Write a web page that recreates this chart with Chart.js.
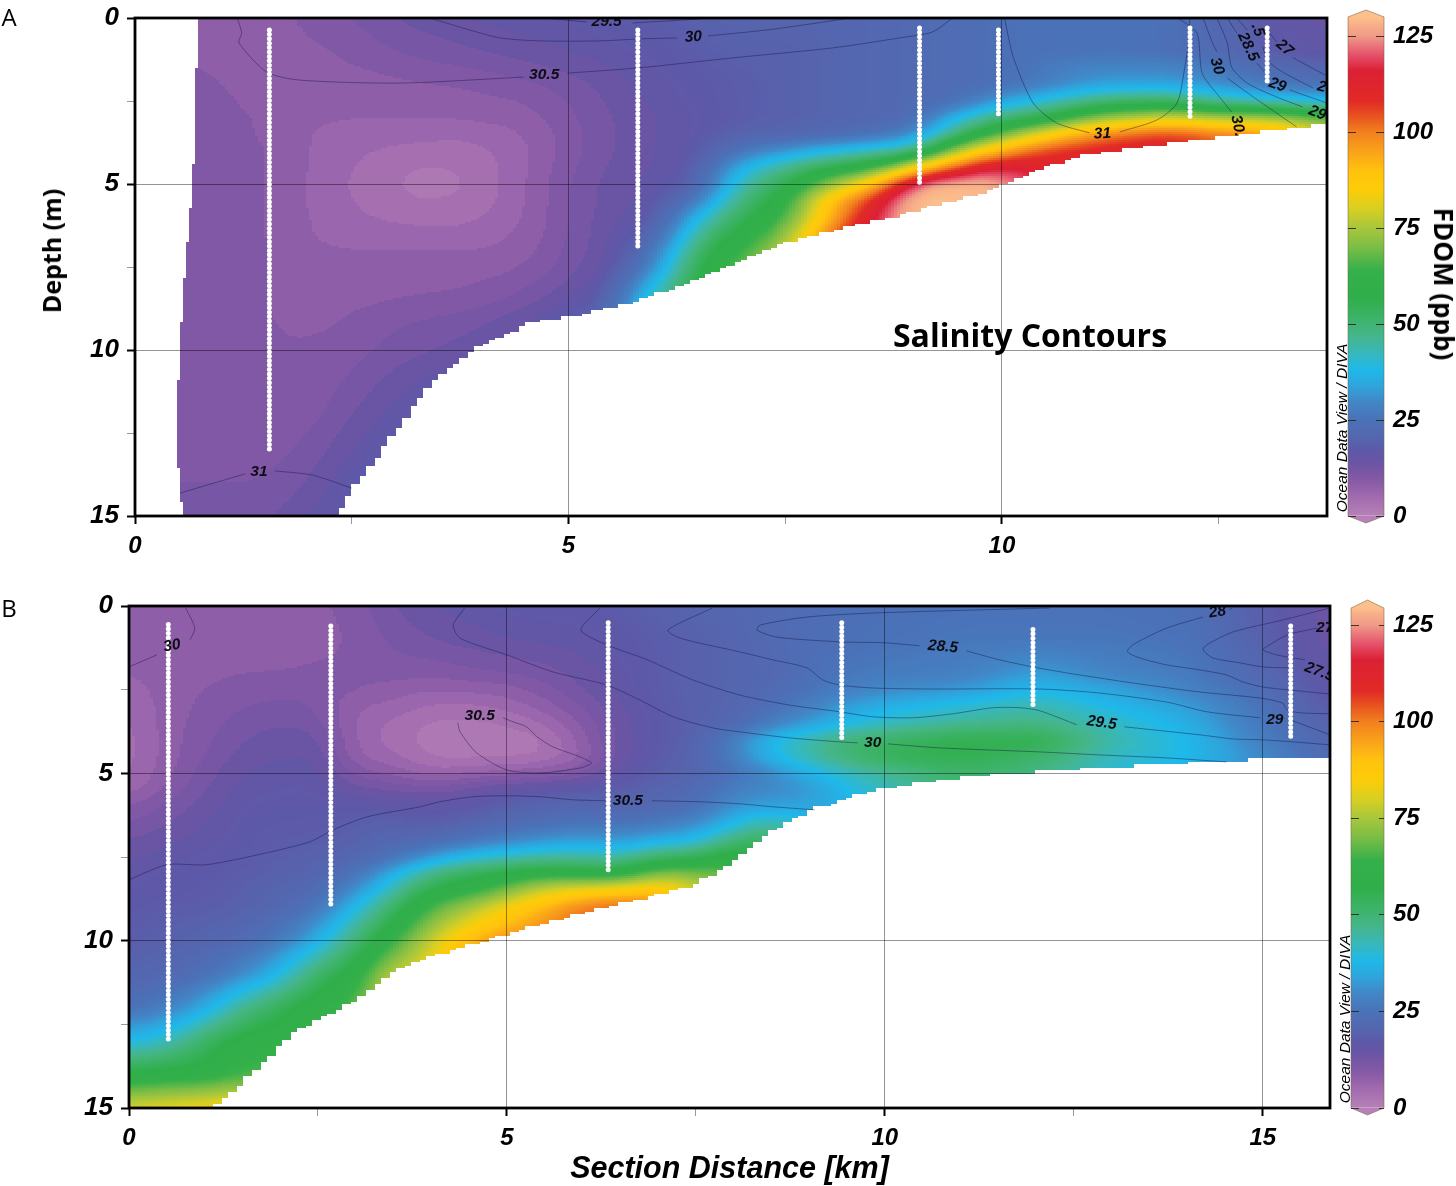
<!DOCTYPE html>
<html><head><meta charset="utf-8">
<style>
html,body{margin:0;padding:0;background:#fff;width:1456px;height:1186px;overflow:hidden}
canvas{position:absolute;display:block}
.t{position:absolute;white-space:nowrap;transform:translate(-50%,-50%);color:#000;line-height:1}
</style>
<script src="https://cdn.jsdelivr.net/npm/chart.js@4/dist/chart.umd.min.js"></script>
</head><body>
<canvas id="cA" style="left:0;top:-20px" width="1340" height="590"></canvas>
<canvas id="barA" style="left:1340px;top:-30px" width="116" height="600"></canvas>
<canvas id="cB" style="left:0;top:575px" width="1340" height="611"></canvas>
<canvas id="barB" style="left:1340px;top:560px" width="116" height="600"></canvas>
<div class="t" style="left:9px;top:16px;font:24px 'Open Sans'">A</div>
<div class="t" style="left:9px;top:607px;font:24px 'Open Sans'">B</div>
<div class="t" style="left:51px;top:251px;font:700 25px 'Open Sans';transform:translate(-50%,-50%) rotate(-90deg)">Depth (m)</div>
<div class="t" style="left:1030px;top:334px;font:700 32px 'Open Sans'">Salinity Contours</div>
<div class="t" style="left:1444px;top:284px;font:700 26px 'Open Sans';transform:translate(-50%,-50%) rotate(90deg)">FDOM (ppb)</div>
<div class="t" style="left:1342px;top:428px;font:italic 15.5px 'Liberation Sans';transform:translate(-50%,-50%) rotate(-90deg)">Ocean Data View / DIVA</div>
<div class="t" style="left:1345px;top:1019px;font:italic 15.5px 'Liberation Sans';transform:translate(-50%,-50%) rotate(-90deg)">Ocean Data View / DIVA</div>
<script>
// ---- Depth levels of the section tables (m)
const depthRows=[0,1,2,2.5,3,3.5,4,4.5,5,5.5,6,6.5,7,7.5,8,8.5,9,10,11,12,13,14,15];

// ---- Panel A: FDOM (ppb) by section distance (km); each inner list runs down depthRows
const distA=[0.5,1,1.5,2,2.5,3,3.5,4,4.5,5,5.5,6,6.5,7,7.5,8,8.5,9,9.5,10,10.5,11,11.5,12,12.5,13,13.75];
const fdomA=[
[9,9,10,10,10,10,10.5,10.5,10.5,10.5,10.5,10.5,10.5,10.5,10.5,10.5,10.5,10.5,10.5,10.5,10.5,11,11.5],
[8,8,9,9.5,10,10.5,11,11,11,11,11,11,11,11,11,10.5,10.5,10.5,10.5,10.5,10.5,11,11.5],
[8,8,8,8,8.5,8.5,9,9,9,9,9,9,9,9,9,9,9,9.5,9.5,9.5,10,11,12.5],
[9.5,8.5,8,8,7.5,7,7,7,6.8,6.8,7,7,7.5,8,8,8,8.5,9,9.5,10,11.5,13,15],
[11,9.5,8,8,7,6,5.5,5,4.8,5,5.5,6,7,8,8,8.5,9,10,11.5,13,15,17,18],
[13,11,8.5,8,7,6,4.5,3.5,3,3.5,4.5,6,7,8,8.5,9,10.5,12,14,16,18,20],
[14.5,12,9,8,7,5.5,4,2.6,2,2.8,4,5.5,7,8,8.5,9.5,11,13,16,19],
[15.5,13,9.5,8.5,7.5,5.5,4.5,4,3.8,4,4.8,6,7,8,9,10,12,15,18],
[16,14,10.5,9,8,7,6.5,6.5,6.8,6.8,7,7.5,8,9,10.5,12,14.5,17],
[16.5,15,12,11,10.5,10,10,10.5,11,11,11,11,11.5,12,13,15,17,19],
[17.5,16,14,13.5,13,13,13,13.5,14,14,14.5,15,15,16,18,20,22],
[18,17,16,15.5,15,15,15,15,15.5,16,17,20,25,30,38,46,50],
[19,18,17,17,16.5,16.5,17,18,20,27,38,46,53,57,59,60],
[20,19,18,18,18,20,26,37,44,50,55,60,64,68],
[20,19,19,19,19,20,32,46,55,60,64,70,76,80],
[20,20,20,20,20,22,38,56,72,88,92,101,104],
[21,21,21,21,21,24,42,62,88,108,115,118],
[22,22,22,22,22.5,30,48,84,122,132,132,132],
[23,23,23,24,38,52,76,106,130,132,132],
[24,24,24,34,50,68,94,118,127,130],
[25,25,28,40,56,84,106,112,114],
[25,25,33,48,70,96,110,112],
[25,25,34,52,76,103,112,112],
[24,24,34,52,80,106,112],
[21,22,31,45,74,100,104],
[17,18,27,42,76,98,98],
[14,16,24,38,66,80,80]];
const floorKmA=[0,2.2,2.3,2.51,3.43,3.98,4.55,5,5.65,5.82,6.6,7.44,8.13,8.9,9.67,10.44,10.93,11.9,12.66,13.75];
const floorDepthA=[15.6,15.5,15,14.16,10.9,9.85,9.15,9,8.6,8.5,7.7,6.8,6.33,5.87,5.33,4.5,4.13,3.77,3.52,3.17];
const edgeDepthA=[0,2.5,5,6,8.5,11,13.5,15];
const edgeKmA=[0.74,0.69,0.67,0.63,0.55,0.5,0.5,0.55];
const stationsA=[[1.55,0.36,13],[5.8,0.36,7],[9.05,0.3,5],[9.96,0.36,3],[12.17,0.3,3],[13.06,0.3,2]];
const contoursA=[
[[4.71,0],[5.21,.12],null,[5.74,.15],[6.52,.03]],
[[3.4,0],[3.86,.36],[4.21,.6],[4.67,.69],[5.36,.69],[5.82,.63],[6.25,.6],null,[6.61,.54],[7.29,.36],[7.87,.15],[8.25,0]],
[[1.18,0],[1.23,.45],[1.2,.75],[1.52,1.63],[1.9,1.87],[3.06,1.96],[4.48,1.78],null,[4.99,1.66],[5.82,1.5],[6.9,1.2],[8.05,.9],[8.82,.6],[9.2,.42],[9.43,0]],
[[10.03,0],[10.13,1.17],[10.36,2.56],[10.63,3.16],[11.01,3.46],null,[11.36,3.43],[11.79,3.07],[12.02,2.56],[12.11,1.48],[12.15,.75],[12.17,0]],
[[12.03,0],[12.25,.45],[12.31,1.66],[12.51,2.38],[12.65,2.83]],
[[12.32,0],[12.43,.75],[12.48,1.02],null,[12.6,1.81],[12.9,2.38],[13.4,3.28]],
[[12.48,0],[12.6,.75],[12.65,1.48],[12.83,1.96],[13.17,2.38],[13.47,2.68]],
[[12.6,0],[12.71,.45],null,[12.94,1.36],[13.09,1.81],null,[13.32,2.17],[13.75,2.56]],
[[12.71,0],[12.83,.36],null,[13.01,.87],[13.06,1.27],[13.24,1.63],[13.59,2.11]],
[[13.03,.27],[13.17,.72],null,[13.36,1.2],[13.73,1.72]],
[[.52,14.31],[1.27,13.73],null,[1.61,13.64],[2.05,13.77],[2.5,14.16]]];
const labelsA=[["29.5",5.44,.12,0],["30",6.44,.57,-3],["30.5",4.72,1.72,0],["31",1.43,13.67,0],["31",11.16,3.49,-3],
["30",12.48,1.45,72],["28.5",12.84,.87,65],[".5",12.95,.36,72],["27",13.26,.9,40],["29",13.18,2.02,20],["29",13.64,2.86,22],["2",13.69,2.08,15],["30.",12.72,3.25,78]];

// ---- Panel B
const distB=[0,0.5,1,1.5,2,2.5,3,3.5,4,4.5,5,5.5,6,6.5,7,7.5,8,8.5,9,9.5,10,11,12,13,14,15,15.9];
const fdomB=[
[8,8,7,6,5,4.5,4,4,4.5,6,9,11,13,14.5,16,16.5,17,18,20,24,38,58,80],
[8,8,8,8,8,8,8,8,8.5,9.5,11.5,13,14.5,16,17,17,18,19,21,28,42,60,82],
[8,8,8.5,9,9.5,10,10.5,11,12,13,14,15,16,16.5,17,17.5,18,20,24,35,52,60,84],
[8,8,9,10,11,12,13,14,15,16,16.5,17,17,17.5,18,18.5,19,22,30,47,60,66,86],
[8,8,9,10.5,11.5,13,14,15,16,16.5,17,17.5,18,18.5,19,20,21,27,38,54,62,66],
[8.5,8,9.5,10.5,11,12,14,15,16,16.5,17,17.5,18,19,20,22,26,36,52,62,66],
[10,9.5,9.5,9,7,6.5,6.5,7,10,14,17,18.5,19,21,25,31,38,50,60,66],
[13,11.5,10,8,6.5,4.5,4,5.5,8.5,13,17,19,21,25,36,44,52,64,78,84],
[15,13,9.5,7,4.5,2.5,2,2.5,6,12,16,18,22,33,48,58,66,78,84],
[16,14,10.5,7.5,4.5,2.5,2,2.5,7,14,17,20,26,39,54,62,74,92,98],
[17,15,11,8,5.5,3,2,2.5,8,16,19,22,29,42,58,70,84,98,100],
[17,15.5,12,10,8,5,2.5,3,9,17,20,24,32,45,62,80,92,102],
[17,16,14,13,11,9.5,8,7,11,18,21,26,33,45,60,84,100,108],
[18,17,16,15.5,15,14,14,14,16,18,20,25,32,44,60,86,104],
[19,18,18,18,17.5,17.5,17.5,18,18.5,20,22,27,36,52,72,90,100],
[20,19,19,19,19,19,19,19.5,20,22,24,30,38,54,70,80],
[21,20,20,20,20,21,28,28,25,28,32,38,50,62,68],
[22,22,21,22,24,28,38,37,30,30,34,46,54],
[23,23,24,25,28,33,44,44,36,32,34,38],
[24,24,26,28,33,38,50,50,42,38,36],
[24,25,27,30,36,42,52,54,46,42],
[25,26,28,32,40,46,56,56,52,50],
[25,26,33,38,44,48,56,52,48],
[25,26,29,34,38,42,44,42,40],
[24,25,27,29,33,36,38,38,37],
[18,19,21,23,25,26,28,30,30],
[14,14,15,16,17,19,20,22,23]];
const floorKmB=[0,1.05,1.07,1.5,1.83,2.2,2.88,3.5,4,4.5,5,5.5,6,6.5,7,7.5,8,8.5,9,9.5,10,11,11.52,13.8,14.6,15.9];
const floorDepthB=[15.6,15.5,15,14.2,13.46,12.66,11.9,10.9,10.45,10.1,9.8,9.45,9.15,8.87,8.6,8.3,7.6,6.7,6.1,5.7,5.43,5.1,5,4.7,4.6,4.52];
const stationsB=[[.52,.55,13],[2.67,.6,9],[6.34,.5,8],[9.43,.5,4],[11.96,.7,3.05],[15.37,.6,4]];
const contoursB=[
[[.75,.06],[.87,.66],[.81,1.01],null,[.37,1.46],[0,1.82]],
[[0,8.18],[.5,7.73],[1.03,7.73],[1.83,7.37],[2.4,7.04],[2.7,6.69],[3.15,6.3],[3.85,6],[4.11,5.85],[4.55,5.7],[5,5.67],[5.44,5.7],[5.87,5.79],[6.3,5.82],null,[6.92,5.82],[7.55,5.85],[8.08,5.91],[8.52,6],[9.07,6.09]],
[[4.35,3.49],[4.38,3.76],[4.6,4.39],[5,4.9],[5.44,4.99],[5.97,4.84],[6.12,4.69],[5.97,4.51],[5.61,4.21],[5.4,3.91],[5.26,3.61],[5.08,3.46],[4.95,3.34]],
[[4.44,.06],[4.29,.57],[4.38,.96],[5,1.46],[5.61,1.97],[6.32,2.36],[6.76,2.81],[7.2,3.31],[7.72,3.64],[8.08,3.76],[8.74,3.94],[9.4,4.06],[9.64,4.09],null,[10.04,4.12],[10.73,4.24],[12.05,4.36],[12.84,4.45],[13.73,4.54],[14.52,4.66]],
[[6.23,.06],[5.98,.72],[6.32,1.16],[6.85,1.6],[7.46,2.21],[8.08,2.66],[8.74,2.96],[9.4,3.16],[9.84,3.31],[10.37,3.34],[10.9,3.22],[11.43,3.04],[11.79,3.04],[12.05,3.13],[12.54,3.55],null,[13.17,3.61],[14.17,3.85],[14.6,3.97],[15,4],[15.4,4.06],[15.89,4.15]],
[[7.72,.06],[7.13,.72],[7.29,.96],[8.08,1.37],[8.52,1.61],[8.97,1.85],[9.18,2.21],[9.4,2.36],[9.84,2.45],[10.6,2.48],[12.05,2.48],[12.84,2.6],[13.73,2.87],[14.26,3.16],[14.96,3.34],null,[15.4,3.43],[15.89,3.85]],
[[12.18,.06],[9.84,.21],[8.97,.33],[8.35,.57],[8.31,.72],[8.57,.93],[9.4,1.07],[10,1.1],[10.46,1.19],null,[11.08,1.34],[11.52,1.61],[11.96,1.82],[12.41,2],[13.28,2.3],[14.17,2.57],[14.96,2.75],[15.26,2.9],[15.32,3.1],[15.49,3.19],[15.89,3.22]],
[[14.6,.06],[14.55,.12],null,[14.21,.33],[13.73,.66],[13.28,1.16],[13.21,1.37],[13.37,1.55],[13.73,1.76],[14.17,1.91],[14.52,2.06],[14.74,2.27],[15,2.42],[15.36,2.51],[15.89,2.63]],
[[15.89,.06],[15.26,.42],[14.6,.78],[14.26,1.16],[14.21,1.31],[14.34,1.55],[14.7,1.7],[15,1.82],[15.36,1.85]],
[[15.71,.66],[15.32,.87],[15.05,1.22],[15,1.31],[15.18,1.46],[15.4,1.55],[15.56,1.61]]];
const labelsB=[["30",.57,1.19,-10],["30.5",6.6,5.82,0],["30.5",4.64,3.28,0],["30",9.84,4.09,0],["28.5",10.77,1.22,5],["29.5",12.87,3.49,8],["29",15.16,3.4,0],["28",14.4,.18,-8],["27.5",15.75,1.97,20],["27",15.82,.66,0]];

// ---- Colour scale
const scaleValues=[0,2,4,6,8,10,12,14,17,20,25,30,34,38,42,47,52,57,64,70,75,80,85,90,95,100,104,108,116,120,125,128,132];
const scaleColors=["#b680b8","#ae78b4","#a56fb0","#9a66ad","#8f5ea8","#8158a5","#7656a5","#6a55a5","#5e58a8","#5565ae","#4a72b8","#4188c8","#2ea5dc","#1fb8ea","#35b8c0","#45b58a","#3cb366","#2fae4a","#35b04a","#7bbd45","#a8c63c","#d8cf22","#fdcc08","#ffc20e","#f9a21a","#f2801f","#e8541f","#e12a26","#dc2035","#e4506a","#f09a88","#f8b088","#fcc08c"];
const barTicks=[0,25,50,75,100,125];

const rgb=scaleColors.map(c=>[1,3,5].map(i=>parseInt(c.substr(i,2),16)));
const cache=new Map();
function colourOf(v){
  v=Math.max(0,Math.min(132,v));
  v=v<16?Math.round(v/2)*2:Math.round(v*4)/4;
  if(cache.has(v))return cache.get(v);
  let i=0;while(i<scaleValues.length-2&&scaleValues[i+1]<v)i++;
  const t=(v-scaleValues[i])/(scaleValues[i+1]-scaleValues[i]);
  const c=rgb[i].map((a,k)=>Math.round(a+(rgb[i+1][k]-a)*t));
  const s=`rgb(${c[0]},${c[1]},${c[2]})`;cache.set(v,s);return s;
}
function along(xs,ys,x){
  if(x<=xs[0])return ys[0];
  for(let i=1;i<xs.length;i++)if(x<=xs[i])return ys[i-1]+(ys[i]-ys[i-1])*(x-xs[i-1])/(xs[i]-xs[i-1]);
  return ys[ys.length-1];
}
function bracket(xs,x){
  if(x<=xs[0])return[0,0,0];
  for(let i=1;i<xs.length;i++)if(x<=xs[i])return[i-1,i,(x-xs[i-1])/(xs[i]-xs[i-1])];
  return[xs.length-1,xs.length-1,0];
}
function read(cols,grid,km,d){
  const[a,b,t]=bracket(cols,km),[p,q,u]=bracket(depthRows,d);
  const at=(c,r)=>c[Math.min(r,c.length-1)];
  const v1=at(grid[a],p)*(1-u)+at(grid[a],q)*u;
  const v2=at(grid[b],p)*(1-u)+at(grid[b],q)*u;
  return v1*(1-t)+v2*t;
}
// softened reading so the drawn field has no creases at the table's rows and columns
const softKm=[0,-.22,.22,-.22,.22,-.11,.11],softDepth=[0,-.18,-.18,.18,.18,0,0];
function readSoft(cols,grid,km,d){
  let s=0;for(let i=0;i<7;i++)s+=read(cols,grid,km+softKm[i],d+softDepth[i]);
  return s/7;
}
function heatPlugin(cols,grid,floorKm,floorDepth,edgeDepth,edgeKm,stepX){
  return{id:'heat',beforeDraw(chart){
    const{ctx,chartArea:a,scales:{x,y}}=chart;
    ctx.save();ctx.beginPath();ctx.rect(a.left,a.top,a.width,a.height);ctx.clip();
    for(let py=Math.floor(a.top);py<a.bottom;py+=2){
      const d=y.getValueForPixel(py+1);
      const leftKm=edgeKm?along(edgeDepth,edgeKm,d):-1;
      for(let px=Math.floor(a.left);px<a.right;px+=3){
        const km=x.getValueForPixel(px+1.5);
        if(km<leftKm)continue;
        const qx=a.left+(Math.floor((px-a.left)/stepX)+.5)*stepX;
        const botPx=Math.round(y.getPixelForValue(along(floorKm,floorDepth,x.getValueForPixel(qx)))/3)*3;
        if(py>=botPx)continue;
        ctx.fillStyle=colourOf(readSoft(cols,grid,km,d));
        ctx.fillRect(px,py,3,2);
      }
    }
    ctx.restore();
  }};
}
function overlayPlugin(labels){
  return{id:'overlay',afterDatasetsDraw(chart){
    const{ctx,chartArea:a,scales:{x,y}}=chart;
    ctx.save();ctx.beginPath();ctx.rect(a.left,a.top,a.width,a.height);ctx.clip();
    ctx.font='italic bold 15.5px "Liberation Sans"';ctx.fillStyle='#0c0c14';ctx.textAlign='center';ctx.textBaseline='middle';
    labels.forEach(([t,km,d,r])=>{
      ctx.save();ctx.translate(x.getPixelForValue(km),y.getPixelForValue(d));ctx.rotate(r*Math.PI/180);ctx.fillText(t,0,0);ctx.restore();
    });
    ctx.restore();
  },afterDraw(chart){
    const{ctx,chartArea:a}=chart;
    ctx.save();ctx.strokeStyle='#000';ctx.lineWidth=2.8;ctx.strokeRect(a.left,a.top,a.width,a.height);ctx.restore();
  }};
}
const tickFont={family:'"Liberation Sans"',size:24,weight:'bold',style:'italic'};
const tickFontY={family:'"Liberation Sans"',size:26,weight:'bold',style:'italic'};
function sectionChart(id,cols,grid,xMax,stations,contours,labels,floorKm,floorDepth,edgeDepth,edgeKm,stepX,pad,yWidth,xHeight,xTitle){
  const stationSets=stations.map(([k,a,b])=>({data:[{x:k,y:a},{x:k,y:b}],showLine:true,pointRadius:0,borderColor:'#fff',borderWidth:5,borderCapStyle:'round',borderDash:[0.01,4.4]}));
  const lineSets=contours.map(c=>({data:c.map(p=>p?{x:p[0],y:p[1]}:{x:null,y:null}),showLine:true,spanGaps:false,pointRadius:0,borderColor:'rgba(20,20,70,.58)',borderWidth:.75,tension:.25}));
  const axis=(extra)=>Object.assign({type:'linear',
    grid:{color:c=>(c.tick&&c.tick.value>0&&c.tick.value%5===0)?'rgba(0,0,0,.42)':'rgba(0,0,0,0)',lineWidth:1,tickLength:8,
      tickColor:c=>(c.tick&&c.tick.value%5===0)?'#000':'#999',tickWidth:c=>(c.tick&&c.tick.value%5===0)?2:1},
    border:{display:false}},extra);
  const tickOpts=f=>({stepSize:2.5,includeBounds:false,autoSkip:false,maxRotation:0,font:f,color:'#000',padding:8,callback:v=>v%5===0?String(v):''});
  return new Chart(document.getElementById(id),{type:'scatter',
    data:{datasets:[...stationSets,...lineSets]},
    options:{responsive:false,animation:false,devicePixelRatio:1,layout:{padding:pad},
      plugins:{legend:{display:false},tooltip:{enabled:false},title:{display:false}},
      scales:{
        x:axis({min:0,max:xMax,ticks:tickOpts(tickFont),afterFit:s=>{s.height=xHeight;},
          title:xTitle?{display:true,text:xTitle,color:'#000',font:{family:'"Liberation Sans"',size:30.5,weight:'bold',style:'italic',lineHeight:1.08},padding:0}:{display:false}}),
        y:axis({min:0,max:15,reverse:true,ticks:tickOpts(tickFontY),afterFit:s=>{s.width=yWidth;}})
      }},
    plugins:[heatPlugin(cols,grid,floorKm,floorDepth,edgeDepth,edgeKm,stepX),overlayPlugin(labels)]});
}
function colourBar(id,pad,yMin,yMax,shoulderTop){
  const capPlugin={id:'caps',afterDatasetsDraw(chart){
    const{ctx,chartArea:a,scales:{y}}=chart;
    const y0=y.getPixelForValue(0),y1=y.getPixelForValue(shoulderTop),mid=(a.left+a.right)/2;
    ctx.save();
    ctx.fillStyle=colourOf(132);ctx.beginPath();ctx.moveTo(a.left,y1);ctx.lineTo(mid,y.getPixelForValue(yMax));ctx.lineTo(a.right,y1);ctx.closePath();ctx.fill();
    ctx.fillStyle=scaleColors[0];ctx.beginPath();ctx.moveTo(a.left,y0);ctx.lineTo(mid,y.getPixelForValue(yMin));ctx.lineTo(a.right,y0);ctx.closePath();ctx.fill();
    ctx.strokeStyle='rgba(120,100,80,.7)';ctx.lineWidth=.8;ctx.beginPath();
    ctx.moveTo(a.left,y0);ctx.lineTo(mid,y.getPixelForValue(yMin));ctx.lineTo(a.right,y0);ctx.lineTo(a.right,y1);ctx.lineTo(mid,y.getPixelForValue(yMax));ctx.lineTo(a.left,y1);ctx.closePath();ctx.stroke();
    ctx.restore();
  }};
  return new Chart(document.getElementById(id),{type:'bar',
    data:{labels:['FDOM (ppb)'],datasets:[{data:[[0,shoulderTop]],barPercentage:1,categoryPercentage:1,borderWidth:0,
      backgroundColor:c=>{
        const ch=c.chart;if(!ch.chartArea)return scaleColors[0];
        const y=ch.scales.y,g=ch.ctx.createLinearGradient(0,y.getPixelForValue(0),0,y.getPixelForValue(shoulderTop));
        scaleValues.forEach((v,i)=>{g.addColorStop(Math.min(1,v/shoulderTop),scaleColors[i]);});
        return g;
      }}]},
    options:{responsive:false,animation:false,devicePixelRatio:1,layout:{padding:pad},
      plugins:{legend:{display:false},tooltip:{enabled:false}},
      scales:{
        x:{display:false},
        y:{position:'right',min:yMin,max:yMax,
          afterBuildTicks:s=>{s.ticks=barTicks.map(v=>({value:v}));},
          afterFit:s=>{s.width=72;},
          ticks:{font:tickFont,color:'#000',padding:9,autoSkip:false,callback:v=>String(v)},
          grid:{z:1,color:'rgba(40,30,20,.85)',lineWidth:1,drawTicks:false,tickLength:0},
          border:{display:false,dash:[8,20]}}
      }},
    plugins:[capPlugin]});
}
sectionChart('cA',distA,fdomA,13.75,stationsA,contoursA,labelsA,floorKmA,floorDepthA,edgeDepthA,edgeKmA,7.2,{top:38,right:13,left:0,bottom:0},135,54,null);
sectionChart('cB',distB,fdomB,15.89,stationsB,contoursB,labelsB,floorKmB,floorDepthB,null,null,7.6,{top:31,right:10,left:0,bottom:0},129,78,'Section Distance [km]');
colourBar('barA',{left:8,top:40,bottom:47,right:0},-1.82,131.8,130);
colourBar('barB',{left:11,top:40,bottom:45,right:0},-1.81,131.5,129.4);
</script>
</body></html>
